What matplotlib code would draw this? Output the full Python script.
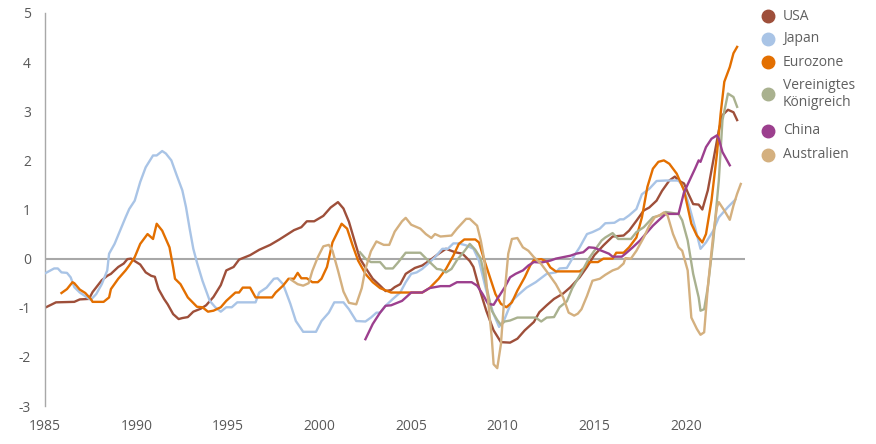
import matplotlib
matplotlib.use("Agg")
import matplotlib.pyplot as plt
from matplotlib.lines import Line2D

# ---- data (year, value) ----
usa = [(1985.0,-1.0),(1985.6,-0.89),(1986.6,-0.88),(1986.9,-0.83),(1987.4,-0.82),(1987.6,-0.68),
       (1988.1,-0.44),(1988.4,-0.35),(1988.6,-0.31),(1989.0,-0.17),(1989.3,-0.10),(1989.5,-0.01),
       (1989.7,0.0),(1989.9,-0.05),(1990.2,-0.12),(1990.5,-0.28),(1990.8,-0.35),(1991.0,-0.37),
       (1991.2,-0.62),(1991.5,-0.82),(1991.7,-0.93),(1992.0,-1.13),(1992.3,-1.23),(1992.5,-1.21),
       (1992.8,-1.19),(1993.1,-1.08),(1993.5,-1.02),(1993.8,-0.95),(1994.2,-0.78),(1994.6,-0.54),
       (1994.9,-0.24),(1995.3,-0.17),(1995.6,-0.02),(1996.2,0.07),(1996.7,0.18),(1997.3,0.28),
       (1997.8,0.39),(1998.6,0.58),(1999.0,0.64),(1999.3,0.76),(1999.7,0.76),(2000.2,0.87),
       (2000.6,1.04),(2001.0,1.15),(2001.3,1.02),(2001.6,0.75),(2001.9,0.37),(2002.2,0.0),
       (2002.6,-0.24),(2002.9,-0.41),(2003.3,-0.55),(2003.6,-0.66),(2003.9,-0.64),(2004.1,-0.58),
       (2004.4,-0.52),(2004.7,-0.31),(2005.2,-0.19),(2005.6,-0.14),(2006.0,-0.04),(2006.5,0.1),
       (2006.9,0.2),(2007.4,0.13),(2007.8,0.1),(2008.2,-0.05),(2008.4,-0.17),(2008.7,-0.58),
       (2009.1,-1.06),(2009.5,-1.46),(2009.9,-1.7),(2010.4,-1.71),(2010.8,-1.63),(2011.2,-1.46),
       (2011.7,-1.29),(2012.0,-1.09),(2012.4,-0.95),(2012.8,-0.82),(2013.3,-0.71),(2013.7,-0.58),
       (2014.2,-0.38),(2014.6,-0.17),(2015.0,0.07),(2015.5,0.27),(2016.0,0.45),(2016.6,0.47),
       (2016.9,0.57),(2017.3,0.77),(2017.7,0.98),(2018.0,1.04),(2018.4,1.18),(2018.7,1.38),
       (2019.1,1.59),(2019.4,1.67),(2019.6,1.59),(2019.9,1.53),(2020.1,1.35),(2020.4,1.11),
       (2020.7,1.10),(2020.9,1.0),(2021.2,1.39),(2021.5,2.0),(2021.8,2.61),(2022.0,2.92),
       (2022.3,3.03),(2022.6,2.98),(2022.8,2.82)]

japan = [(1985.0,-0.3),(1985.5,-0.2),(1985.7,-0.2),(1985.9,-0.28),(1986.2,-0.29),(1986.4,-0.38),
         (1986.6,-0.58),(1986.9,-0.69),(1987.3,-0.79),(1987.5,-0.84),(1987.8,-0.72),(1988.1,-0.52),
         (1988.4,-0.24),(1988.5,0.1),(1988.8,0.3),(1989.1,0.57),(1989.4,0.84),(1989.6,1.01),
         (1989.9,1.18),(1990.2,1.56),(1990.5,1.86),(1990.9,2.1),(1991.1,2.1),(1991.4,2.19),
         (1991.6,2.14),(1991.9,2.0),(1992.2,1.69),(1992.5,1.39),(1992.7,1.05),(1992.9,0.61),
         (1993.1,0.2),(1993.3,-0.08),(1993.6,-0.45),(1994.0,-0.86),(1994.3,-0.99),(1994.6,-1.08),
         (1994.9,-0.99),(1995.2,-0.99),(1995.5,-0.89),(1996.5,-0.89),(1996.7,-0.69),(1997.1,-0.59),
         (1997.5,-0.41),(1997.7,-0.4),(1998.0,-0.52),(1998.4,-0.92),(1998.7,-1.27),(1999.1,-1.49),
         (1999.8,-1.49),(2000.1,-1.27),(2000.5,-1.10),(2000.8,-0.89),(2001.3,-0.89),(2001.6,-1.03),
         (2002.0,-1.27),(2002.5,-1.28),(2002.8,-1.2),(2003.1,-1.1),(2003.3,-1.1),(2003.6,-0.96),
         (2004.0,-0.82),(2004.4,-0.69),(2004.7,-0.48),(2005.0,-0.31),(2005.3,-0.28),(2005.6,-0.21),
         (2005.9,-0.11),(2006.3,0.03),(2006.7,0.2),(2007.0,0.2),(2007.3,0.31),(2007.6,0.31),
         (2008.0,0.27),(2008.4,0.2),(2008.7,-0.04),(2009.1,-0.65),(2009.5,-1.13),(2009.8,-1.39),
         (2010.1,-1.23),(2010.5,-0.86),(2010.9,-0.72),(2011.3,-0.59),(2011.8,-0.48),(2012.4,-0.31),
         (2012.9,-0.28),(2013.1,-0.2),(2013.5,-0.19),(2013.8,0.0),(2014.2,0.23),(2014.6,0.5),
         (2014.9,0.54),(2015.3,0.61),(2015.6,0.72),(2016.1,0.73),(2016.4,0.8),(2016.6,0.8),
         (2016.9,0.88),(2017.3,1.01),(2017.6,1.31),(2018.0,1.42),(2018.4,1.58),(2018.9,1.59),
         (2019.6,1.59),(2019.8,1.49),(2020.1,1.18),(2020.5,0.64),(2020.8,0.2),(2021.1,0.33),
         (2021.5,0.57),(2021.8,0.84),(2022.3,1.05),(2022.7,1.2)]

eurozone = [(1985.9,-0.7),(1986.2,-0.62),(1986.5,-0.48),(1986.6,-0.5),(1986.9,-0.63),(1987.2,-0.7),
            (1987.5,-0.82),(1987.6,-0.88),(1988.2,-0.88),(1988.5,-0.79),(1988.6,-0.62),(1989.0,-0.41),
            (1989.4,-0.24),(1989.6,-0.14),(1989.9,0.03),(1990.2,0.3),(1990.6,0.5),(1990.9,0.4),
            (1991.1,0.71),(1991.4,0.57),(1991.6,0.4),(1991.8,0.23),(1992.0,-0.18),(1992.1,-0.41),
            (1992.4,-0.52),(1992.8,-0.79),(1993.3,-0.98),(1993.6,-0.99),(1993.9,-1.08),(1994.2,-1.06),
            (1994.6,-0.99),(1994.9,-0.86),(1995.4,-0.69),(1995.6,-0.69),(1995.8,-0.59),(1996.2,-0.59),
            (1996.5,-0.79),(1997.4,-0.79),(1997.6,-0.69),(1998.0,-0.55),(1998.3,-0.41),(1998.6,-0.41),
            (1998.8,-0.29),(1999.0,-0.4),(1999.3,-0.4),(1999.6,-0.48),(1999.9,-0.48),(2000.1,-0.41),
            (2000.4,-0.17),(2000.7,0.33),(2001.2,0.71),(2001.5,0.61),(2001.8,0.27),(2002.1,-0.04),
            (2002.5,-0.31),(2002.9,-0.48),(2003.3,-0.6),(2003.9,-0.69),(2005.6,-0.69),(2006.0,-0.6),
            (2006.5,-0.41),(2006.9,-0.21),(2007.3,0.06),(2007.6,0.3),(2007.9,0.39),(2008.5,0.39),
            (2008.7,0.33),(2009.0,-0.04),(2009.3,-0.38),(2009.6,-0.72),(2009.9,-0.92),(2010.2,-0.99),
            (2010.5,-0.89),(2010.8,-0.65),(2011.2,-0.38),(2011.5,-0.14),(2011.7,-0.03),(2012.1,-0.01),
            (2012.4,-0.06),(2012.6,-0.18),(2012.9,-0.26),(2014.2,-0.26),(2014.5,-0.18),(2014.7,-0.07),
            (2015.2,-0.07),(2015.5,0.0),(2016.0,0.0),(2016.2,0.12),(2016.6,0.12),(2016.9,0.23),
            (2017.3,0.43),(2017.6,0.84),(2017.9,1.46),(2018.2,1.83),(2018.5,1.97),(2018.8,2.0),
            (2019.1,1.93),(2019.5,1.73),(2019.9,1.39),(2020.1,1.05),(2020.3,0.71),(2020.6,0.47),
            (2020.9,0.33),(2021.1,0.5),(2021.4,1.18),(2021.7,2.14),(2021.9,2.95),(2022.1,3.6),
            (2022.4,3.9),(2022.6,4.18),(2022.8,4.31)]

uk = [(2002.2,0.13),(2002.5,0.0),(2002.8,-0.07),(2003.3,-0.07),(2003.6,-0.2),(2004.0,-0.2),
      (2004.3,-0.07),(2004.7,0.12),(2005.5,0.12),(2005.9,-0.03),(2006.4,-0.21),(2006.6,-0.22),
      (2006.9,-0.28),(2007.2,-0.21),(2007.5,-0.03),(2007.9,0.15),(2008.2,0.3),(2008.5,0.18),
      (2008.8,0.0),(2009.1,-0.55),(2009.4,-1.06),(2009.7,-1.25),(2009.9,-1.35),(2010.1,-1.28),
      (2010.4,-1.26),(2010.8,-1.2),(2011.8,-1.2),(2012.1,-1.28),(2012.4,-1.2),(2012.8,-1.19),
      (2013.1,-0.99),(2013.5,-0.87),(2013.8,-0.6),(2014.3,-0.28),(2014.7,0.0),(2015.0,0.16),
      (2015.4,0.37),(2015.6,0.43),(2016.0,0.52),(2016.3,0.4),(2017.0,0.4),(2017.3,0.54),
      (2017.7,0.64),(2018.2,0.84),(2018.6,0.88),(2018.9,0.95),(2019.6,0.91),(2019.8,0.78),
      (2020.1,0.37),(2020.4,-0.31),(2020.7,-0.79),(2020.8,-1.06),(2021.0,-1.03),(2021.2,-0.58),
      (2021.5,0.37),(2021.8,1.59),(2022.0,2.82),(2022.3,3.36),(2022.6,3.29),(2022.8,3.09)]

china = [(2002.5,-1.64),(2002.9,-1.33),(2003.3,-1.1),(2003.6,-0.96),(2003.9,-0.95),(2004.5,-0.86),
         (2004.8,-0.76),(2005.0,-0.69),(2005.6,-0.69),(2006.0,-0.6),(2006.6,-0.56),(2007.1,-0.56),
         (2007.5,-0.48),(2008.3,-0.48),(2008.6,-0.55),(2008.9,-0.72),(2009.2,-0.92),(2009.5,-0.94),
         (2009.7,-0.82),(2010.1,-0.59),(2010.4,-0.38),(2010.7,-0.31),(2011.1,-0.24),(2011.4,-0.14),
         (2011.7,-0.07),(2012.1,-0.08),(2012.6,-0.04),(2012.9,0.0),(2013.3,0.03),(2013.7,0.06),
         (2014.0,0.1),(2014.4,0.13),(2014.7,0.23),(2015.0,0.22),(2015.4,0.16),(2015.8,0.1),
         (2016.0,0.04),(2016.5,0.04),(2016.7,0.1),(2017.1,0.23),(2017.5,0.37),(2017.8,0.5),
         (2018.2,0.67),(2018.6,0.81),(2018.9,0.91),(2019.6,0.91),(2019.9,1.35),(2020.2,1.59),
         (2020.5,1.83),(2020.7,2.0),(2020.8,1.97),(2021.1,2.27),(2021.4,2.44),(2021.7,2.51),
         (2021.8,2.44),(2022.0,2.17),(2022.4,1.9)]

australia = [(1998.4,-0.42),(1998.8,-0.52),(1999.1,-0.55),(1999.4,-0.5),(1999.6,-0.25),(1999.9,0.03),
             (2000.2,0.25),(2000.5,0.28),(2000.7,0.16),(2001.0,-0.24),(2001.3,-0.67),(2001.6,-0.9),
             (2002.0,-0.93),(2002.3,-0.6),(2002.5,-0.21),(2002.8,0.15),(2003.1,0.35),(2003.5,0.28),
             (2003.8,0.28),(2004.1,0.55),(2004.5,0.76),(2004.7,0.83),(2005.0,0.69),(2005.5,0.61),
             (2005.8,0.5),(2006.1,0.42),(2006.3,0.5),(2006.6,0.45),(2007.2,0.47),(2007.5,0.61),
             (2008.0,0.81),(2008.2,0.81),(2008.6,0.67),(2008.8,0.37),(2009.0,-0.04),(2009.2,-0.86),
             (2009.4,-1.61),(2009.5,-2.15),(2009.7,-2.23),(2009.9,-1.74),(2010.1,-0.72),(2010.3,0.1),
             (2010.5,0.4),(2010.8,0.42),(2011.1,0.23),(2011.4,0.16),(2011.7,0.03),(2012.1,-0.11),
             (2012.5,-0.31),(2012.9,-0.52),(2013.3,-0.79),(2013.6,-1.1),(2013.9,-1.16),(2014.1,-1.12),
             (2014.3,-1.03),(2014.6,-0.76),(2014.9,-0.45),(2015.3,-0.41),(2015.6,-0.33),(2016.0,-0.24),
             (2016.3,-0.2),(2016.6,-0.1),(2016.7,0.01),(2017.0,0.0),(2017.3,0.16),(2017.7,0.43),
             (2018.0,0.67),(2018.3,0.84),(2018.6,0.89),(2018.8,0.94),(2019.0,0.88),(2019.3,0.5),
             (2019.6,0.23),(2019.8,0.16),(2020.1,-0.24),(2020.3,-1.2),(2020.6,-1.43),(2020.8,-1.55),
             (2021.0,-1.5),(2021.2,-0.58),(2021.5,0.5),(2021.7,1.05),(2021.8,1.15),(2022.1,0.98),
             (2022.4,0.79),(2022.6,1.08),(2022.8,1.32),(2023.0,1.52)]

labels = ["USA", "Japan", "Eurozone", "Vereinigtes\nKönigreich", "China", "Australien"]
colors = ["#9E4F3A", "#A9C4E6", "#E36F00", "#A9B18F", "#9C3F8E", "#D4B07F"]
series = [usa, japan, eurozone, uk, china, australia]
x_ticks = [1985, 1990, 1995, 2000, 2005, 2010, 2015, 2020]
y_ticks = [-3, -2, -1, 0, 1, 2, 3, 4, 5]

W, H = 876, 444
fig = plt.figure(figsize=(W / 100, H / 100), dpi=100)
ax = fig.add_axes([45 / W, (H - 406) / H, 700 / W, 393 / H])

ax.axhline(0, color="#A8A8A8", lw=1.5, zorder=1)

draw_order = [1, 5, 3, 4, 0, 2]
for i in draw_order:
    xs = [p[0] for p in series[i]]
    ys = [p[1] for p in series[i]]
    ax.plot(xs, ys, color=colors[i], lw=1.7, solid_joinstyle="round", zorder=2 + i)

ax.set_xlim(1985, 1985 + 700 / 18.31)
ax.set_ylim(-3, 5)
ax.set_xticks(x_ticks)
ax.set_yticks(y_ticks)
ax.set_xticklabels([str(t) for t in x_ticks])
ax.set_yticklabels([str(t) for t in y_ticks])
for s in ["top", "right", "bottom"]:
    ax.spines[s].set_visible(False)
ax.spines["left"].set_color("#A8A8A8")
ax.spines["left"].set_linewidth(1.0)
ax.tick_params(axis="both", length=0, labelsize=10, labelcolor="#595959")
ax.tick_params(axis="x", pad=9)
ax.tick_params(axis="y", pad=10)
for lab in ax.get_xticklabels() + ax.get_yticklabels():
    lab.set_fontfamily("Open Sans")

# legend (manual placement)
leg_y = [16, 39, 62, 94, 131, 155]
for lab, col, yy in zip(labels, colors, leg_y):
    fy = 1 - yy / H
    fig.add_artist(Line2D([768 / W], [fy], marker="o", markersize=9, color=col,
                          linestyle="none", transform=fig.transFigure))
    fig.text(783 / W, fy, lab, ha="left", va="center", fontsize=10,
             family="Open Sans", color="#606060", linespacing=1.15)

fig.savefig("out.png", dpi=100)
